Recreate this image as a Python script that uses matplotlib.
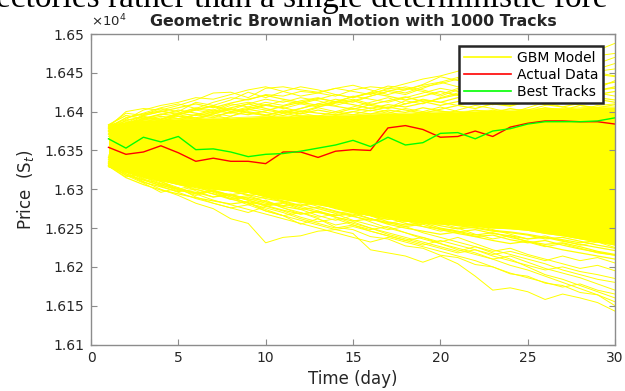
import matplotlib
matplotlib.use("Agg")
import matplotlib.pyplot as plt

# days on the x axis
days = list(range(1, 31))

# actual price and best matching track (price units)
actual = [16354, 16345, 16348, 16356, 16347, 16336, 16340, 16336, 16336, 16333,
          16348, 16348, 16341, 16349, 16351, 16350, 16379, 16382, 16377, 16367,
          16368, 16375, 16368, 16380, 16385, 16388, 16388, 16387, 16387, 16384]
best = [16365, 16353, 16367, 16361, 16368, 16351, 16352, 16348, 16342, 16345,
        16346, 16349, 16353, 16357, 16363, 16355, 16367, 16357, 16360, 16372,
        16373, 16365, 16375, 16378, 16384, 16387, 16387, 16387, 16388, 16392]

# dense core of the 1000 GBM tracks (solid yellow band)
core_hi = [16383, 16387, 16389, 16390, 16391, 16391, 16392, 16392, 16393, 16394,
           16394, 16395, 16395, 16396, 16396, 16397, 16398, 16398, 16399, 16400,
           16400, 16401, 16402, 16402, 16403, 16404, 16404, 16405, 16406, 16406]
core_lo = [16329, 16322, 16316, 16311, 16306, 16303, 16300, 16298, 16296, 16290,
           16287, 16283, 16280, 16276, 16270, 16266, 16263, 16259, 16256, 16255,
           16254, 16252, 16250, 16249, 16247, 16243, 16240, 16236, 16232, 16228]

# single GBM tracks visible around the core
upper_tracks = [
    [16378, 16392, 16398, 16405, 16410, 16404, 16412, 16418, 16415, 16422, 16420, 16426, 16424, 16420, 16428,
     16432, 16430, 16436, 16442, 16446, 16452, 16458, 16462, 16458, 16466, 16470, 16474, 16472, 16479, 16488],
    [16380, 16400, 16404, 16402, 16408, 16415, 16424, 16425, 16418, 16430, 16432, 16428, 16425, 16430, 16426,
     16422, 16430, 16428, 16435, 16445, 16440, 16452, 16448, 16455, 16450, 16446, 16452, 16458, 16455, 16462],
    [16376, 16385, 16396, 16404, 16400, 16412, 16408, 16415, 16425, 16418, 16426, 16432, 16428, 16422, 16418,
     16425, 16433, 16430, 16426, 16420, 16428, 16436, 16445, 16452, 16448, 16440, 16436, 16444, 16450, 16446],
    [16382, 16398, 16395, 16400, 16398, 16405, 16402, 16410, 16406, 16412, 16408, 16414, 16418, 16412, 16420,
     16416, 16412, 16418, 16424, 16430, 16426, 16420, 16428, 16435, 16438, 16432, 16440, 16436, 16430, 16440],
    [16370, 16384, 16390, 16386, 16396, 16402, 16398, 16394, 16402, 16408, 16404, 16410, 16406, 16412, 16416,
     16410, 16405, 16414, 16410, 16418, 16424, 16418, 16414, 16420, 16428, 16434, 16426, 16422, 16428, 16430],
    [16374, 16380, 16392, 16388, 16394, 16390, 16398, 16404, 16398, 16395, 16402, 16398, 16405, 16400, 16406,
     16412, 16418, 16410, 16416, 16412, 16408, 16414, 16420, 16416, 16410, 16418, 16425, 16430, 16424, 16420],
    [16372, 16378, 16386, 16392, 16388, 16396, 16392, 16400, 16406, 16402, 16398, 16404, 16410, 16416, 16412,
     16420, 16426, 16422, 16430, 16438, 16444, 16438, 16446, 16452, 16458, 16454, 16460, 16466, 16462, 16470],
    [16368, 16376, 16382, 16390, 16396, 16392, 16386, 16394, 16400, 16396, 16390, 16398, 16394, 16400, 16396,
     16402, 16398, 16404, 16400, 16395, 16402, 16408, 16404, 16398, 16405, 16412, 16406, 16402, 16408, 16410],
    [16381, 16390, 16402, 16408, 16412, 16418, 16416, 16422, 16428, 16432, 16426, 16420, 16424, 16430, 16434,
     16428, 16422, 16428, 16434, 16438, 16432, 16440, 16446, 16442, 16436, 16444, 16450, 16446, 16452, 16455],
    [16365, 16372, 16380, 16386, 16382, 16390, 16396, 16390, 16385, 16392, 16398, 16394, 16388, 16395, 16400,
     16405, 16400, 16394, 16400, 16406, 16400, 16396, 16402, 16396, 16402, 16408, 16414, 16408, 16404, 16400],
    [16375, 16386, 16380, 16390, 16396, 16402, 16408, 16402, 16410, 16416, 16412, 16418, 16414, 16408, 16414,
     16420, 16426, 16432, 16428, 16422, 16430, 16436, 16432, 16426, 16434, 16440, 16436, 16442, 16448, 16445],
    [16379, 16388, 16394, 16390, 16398, 16404, 16400, 16408, 16412, 16408, 16414, 16410, 16416, 16422, 16418,
     16424, 16428, 16424, 16432, 16436, 16442, 16450, 16446, 16454, 16460, 16456, 16462, 16468, 16472, 16475],
]
# tracks that hug the top edge of the core
upper_near = [
    [16380, 16392, 16397, 16401, 16396, 16403, 16407, 16400, 16404, 16409, 16405, 16400, 16406, 16411, 16414,
     16408, 16404, 16410, 16415, 16412, 16418, 16414, 16409, 16415, 16421, 16417, 16423, 16428, 16422, 16426],
    [16376, 16389, 16393, 16390, 16398, 16395, 16399, 16405, 16410, 16404, 16399, 16404, 16410, 16407, 16403,
     16409, 16414, 16419, 16413, 16408, 16413, 16419, 16425, 16420, 16414, 16420, 16426, 16421, 16427, 16432],
    [16371, 16385, 16391, 16396, 16402, 16398, 16394, 16399, 16396, 16401, 16407, 16412, 16408, 16413, 16409,
     16404, 16409, 16406, 16411, 16417, 16422, 16417, 16412, 16408, 16413, 16410, 16415, 16412, 16418, 16415],
    [16383, 16395, 16391, 16397, 16394, 16392, 16397, 16403, 16399, 16395, 16400, 16397, 16402, 16398, 16404,
     16401, 16406, 16402, 16398, 16403, 16408, 16404, 16410, 16407, 16413, 16409, 16406, 16411, 16416, 16412],
    [16374, 16382, 16395, 16400, 16405, 16410, 16405, 16411, 16416, 16421, 16416, 16412, 16417, 16413, 16419,
     16424, 16420, 16415, 16420, 16426, 16421, 16426, 16431, 16427, 16423, 16429, 16434, 16438, 16434, 16438],
    [16378, 16384, 16389, 16394, 16391, 16396, 16402, 16398, 16403, 16399, 16395, 16401, 16398, 16396, 16400,
     16397, 16402, 16399, 16405, 16401, 16397, 16402, 16398, 16404, 16400, 16405, 16402, 16408, 16405, 16409],
]
lower_tracks = [
    [16336, 16322, 16310, 16300, 16292, 16282, 16275, 16262, 16256, 16231, 16238, 16240, 16246, 16248, 16243,
     16222, 16218, 16214, 16206, 16214, 16204, 16188, 16170, 16173, 16168, 16158, 16165, 16160, 16154, 16143],
    [16332, 16318, 16308, 16296, 16302, 16290, 16282, 16276, 16270, 16278, 16272, 16264, 16258, 16262, 16254,
     16248, 16252, 16244, 16236, 16230, 16222, 16216, 16210, 16202, 16196, 16188, 16180, 16172, 16164, 16150],
    [16338, 16326, 16316, 16306, 16298, 16304, 16296, 16288, 16280, 16286, 16276, 16268, 16272, 16264, 16256,
     16250, 16244, 16238, 16232, 16226, 16220, 16226, 16218, 16210, 16200, 16190, 16184, 16176, 16168, 16160],
    [16330, 16316, 16320, 16310, 16300, 16292, 16298, 16290, 16282, 16276, 16270, 16262, 16256, 16250, 16254,
     16246, 16240, 16234, 16238, 16230, 16224, 16218, 16210, 16214, 16206, 16198, 16192, 16186, 16178, 16170],
    [16334, 16324, 16314, 16318, 16308, 16298, 16290, 16294, 16286, 16278, 16282, 16274, 16266, 16260, 16266,
     16258, 16250, 16244, 16238, 16232, 16238, 16230, 16222, 16216, 16210, 16204, 16196, 16190, 16184, 16180],
    [16340, 16330, 16322, 16312, 16306, 16300, 16294, 16288, 16292, 16284, 16276, 16270, 16264, 16268, 16260,
     16254, 16248, 16252, 16244, 16238, 16232, 16226, 16220, 16224, 16216, 16210, 16204, 16198, 16202, 16195],
    [16329, 16320, 16312, 16304, 16296, 16288, 16282, 16276, 16280, 16272, 16266, 16260, 16254, 16248, 16252,
     16246, 16240, 16234, 16228, 16234, 16228, 16222, 16216, 16220, 16214, 16208, 16214, 16208, 16212, 16205],
    [16342, 16334, 16326, 16318, 16310, 16304, 16298, 16292, 16286, 16290, 16284, 16278, 16272, 16266, 16270,
     16262, 16256, 16260, 16252, 16246, 16250, 16242, 16236, 16240, 16232, 16226, 16230, 16224, 16218, 16215],
    [16336, 16328, 16318, 16310, 16302, 16294, 16286, 16280, 16274, 16268, 16262, 16256, 16250, 16244, 16238,
     16232, 16238, 16232, 16226, 16220, 16214, 16208, 16200, 16192, 16186, 16180, 16174, 16178, 16170, 16165],
    [16344, 16336, 16330, 16322, 16316, 16310, 16304, 16298, 16292, 16296, 16290, 16284, 16278, 16272, 16266,
     16270, 16264, 16258, 16262, 16256, 16250, 16254, 16248, 16242, 16236, 16240, 16234, 16228, 16232, 16225],
    [16331, 16322, 16316, 16308, 16300, 16306, 16298, 16290, 16282, 16274, 16266, 16270, 16262, 16254, 16258,
     16250, 16242, 16236, 16230, 16224, 16218, 16222, 16214, 16208, 16202, 16196, 16200, 16194, 16190, 16185],
    [16333, 16326, 16315, 16310, 16299, 16294, 16298, 16287, 16283, 16272, 16266, 16255, 16262, 16251, 16248,
     16239, 16236, 16227, 16224, 16215, 16212, 16203, 16200, 16191, 16188, 16179, 16176, 16167, 16164, 16155],
]
# tracks that hug the bottom edge of the core
lower_near = [
    [16331, 16318, 16312, 16305, 16300, 16296, 16290, 16293, 16288, 16282, 16278, 16274, 16277, 16271, 16265,
     16260, 16263, 16256, 16252, 16249, 16245, 16248, 16243, 16240, 16236, 16238, 16233, 16229, 16225, 16221],
    [16335, 16320, 16309, 16303, 16297, 16300, 16294, 16287, 16290, 16284, 16279, 16281, 16275, 16269, 16272,
     16266, 16258, 16254, 16257, 16250, 16246, 16241, 16244, 16238, 16233, 16229, 16231, 16226, 16220, 16216],
    [16338, 16328, 16319, 16312, 16308, 16302, 16297, 16293, 16296, 16291, 16285, 16279, 16283, 16278, 16274,
     16268, 16265, 16260, 16262, 16257, 16253, 16250, 16246, 16244, 16241, 16236, 16238, 16233, 16228, 16224],
    [16330, 16315, 16306, 16299, 16294, 16289, 16285, 16281, 16284, 16279, 16273, 16268, 16271, 16264, 16259,
     16262, 16255, 16250, 16246, 16242, 16245, 16239, 16234, 16230, 16233, 16227, 16222, 16218, 16214, 16210],
    [16341, 16331, 16321, 16315, 16310, 16305, 16301, 16298, 16293, 16288, 16284, 16287, 16282, 16275, 16270,
     16266, 16261, 16264, 16258, 16253, 16249, 16251, 16247, 16245, 16242, 16238, 16235, 16231, 16234, 16230],
    [16333, 16323, 16313, 16307, 16301, 16295, 16299, 16292, 16286, 16280, 16283, 16276, 16270, 16266, 16268,
     16262, 16257, 16252, 16255, 16248, 16243, 16239, 16241, 16235, 16231, 16234, 16228, 16223, 16219, 16215],
]

ytick_vals = [16100, 16150, 16200, 16250, 16300, 16350, 16400, 16450, 16500]
ytick_labels = ['1.61', '1.615', '1.62', '1.625', '1.63', '1.635', '1.64', '1.645', '1.65']
xtick_vals = [0, 5, 10, 15, 20, 25, 30]

plt.rcParams['font.family'] = ['DejaVu Sans']
plt.rcParams['mathtext.fontset'] = 'dejavusans'

fig = plt.figure(figsize=(6.25, 3.91), dpi=100)
ax = fig.add_axes([91 / 625, 1 - 344.5 / 391, 524 / 625, 310.5 / 391])

ylw = (1, 1, 0)
ax.fill_between(days, core_lo, core_hi, color=ylw, lw=0)
for tr in upper_tracks + lower_tracks:
    gbm_line, = ax.plot(days, tr, color=ylw, lw=0.7)
for tr in upper_near + lower_near:
    ax.plot(days, tr, color=ylw, lw=0.9)
ax.plot(days, core_hi, color=ylw, lw=0.6)
ax.plot(days, core_lo, color=ylw, lw=0.6)

act_line, = ax.plot(days, actual, color=(1, 0, 0), lw=1.0)
best_line, = ax.plot(days, best, color=(0, 1, 0), lw=1.0)

ax.set_xlim(0, 30)
ax.set_ylim(16100, 16500)
ax.set_xticks(xtick_vals)
ax.set_yticks(ytick_vals)
ax.set_yticklabels(ytick_labels)

axcol = '#8c8c8c'
for s in ax.spines.values():
    s.set_color(axcol)
    s.set_linewidth(1.0)
ax.tick_params(direction='in', length=4.3, width=0.8, color=axcol,
               top=True, right=True, labelsize=10, labelcolor='#262626', pad=5)

ax.set_xlabel('Time (day)', fontsize=12, color='#262626', labelpad=3)
ax.set_ylabel('Price  (S$_t$)', fontsize=12, color='#262626', labelpad=6)
ax.set_title('Geometric Brownian Motion with 1000 Tracks', fontsize=11.4,
             fontweight='bold', color='#262626', pad=6)
ax.text(0.0, 1.015, r'$\times$10$^4$', transform=ax.transAxes, fontsize=9.5,
        color='#262626', ha='left', va='bottom')

leg = ax.legend([gbm_line, act_line, best_line], ['GBM Model', 'Actual Data', 'Best Tracks'],
                loc='upper right', bbox_to_anchor=(0.977, 0.961), borderaxespad=0,
                fontsize=10, handlelength=3.4, handletextpad=0.4, labelspacing=0.2,
                borderpad=0.35, fancybox=False, framealpha=1)
leg.get_frame().set_edgecolor('#262626')
leg.get_frame().set_linewidth(1.8)
for h in leg.get_lines():
    h.set_linewidth(1.2)

# cut-off line of the surrounding document text
fig.text(-0.006, 1 - 7 / 391, 'ectories rather than a single deterministic fore',
         fontsize=24, family='Liberation Serif', ha='left', va='baseline', color='black')

fig.savefig('out.png', dpi=100)
